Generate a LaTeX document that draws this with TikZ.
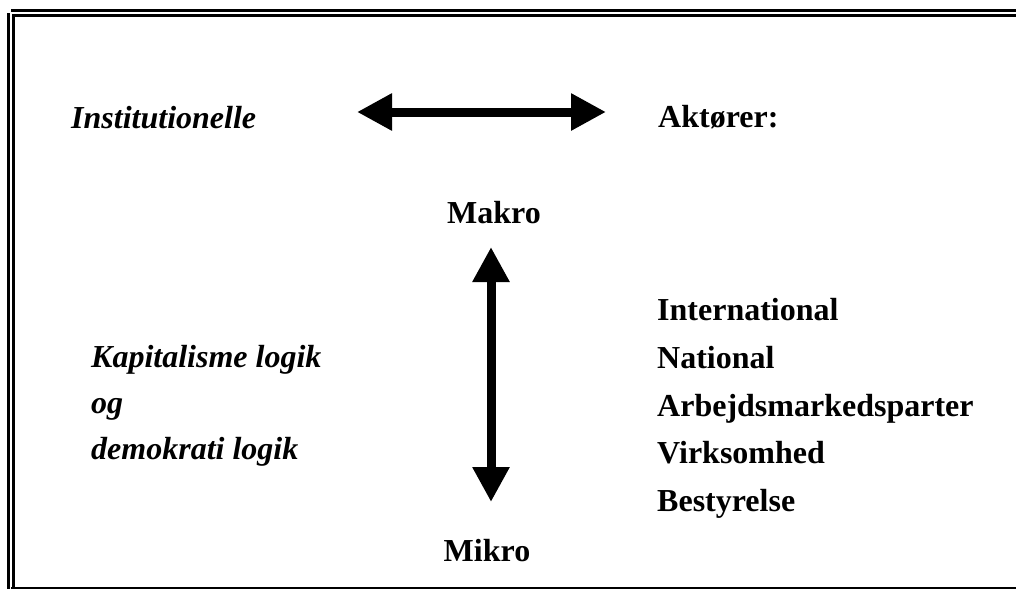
\documentclass[tikz,border=0pt]{standalone}
\usepackage{fontspec}
\setmainfont{Liberation Serif}
\usetikzlibrary{arrows.meta}
\begin{document}
\begin{tikzpicture}[x=1pt,y=-1pt,
  lbl/.style={inner sep=0pt,anchor=base west,font=\fontsize{32}{38}\selectfont\bfseries},
  ilbl/.style={lbl,font=\fontsize{32}{38}\selectfont\bfseries\itshape},
  clbl/.style={lbl,anchor=base},
  frame/.style={line width=2.4pt,line cap=butt},
  bigarrow/.style={line width=9pt,{Triangle[length=35pt,width=35pt]}-{Triangle[length=35pt,width=35pt]}}]
\useasboundingbox (0,0) rectangle (1016,589);
% frame
\draw[frame] (11,10.5) -- (1016,10.5);
\draw[frame] (12,15.3) -- (1016,15.3);
\draw[frame] (8.3,13) -- (8.3,589);
\draw[frame] (13.3,14) -- (13.3,589);
\draw[line width=2pt] (11,588.2) -- (1016,588.2);
% texts
\node[ilbl] (inst) at (71,128) {Institutionelle};
\node[lbl] (akt) at (658,127) {Aktører:};
\node[clbl] (makro) at (494,223) {Makro};
\node[clbl] (mikro) at (487,561) {Mikro};
\node[ilbl] (kap) at (91,367) {Kapitalisme logik};
\node[ilbl] (og) at (91,413) {og};
\node[ilbl] (dem) at (91,459) {demokrati logik};
\node[lbl] (int) at (657,320) {International};
\node[lbl] (nat) at (657,368) {National};
\node[lbl] (arb) at (657,416) {Arbejdsmarkedsparter};
\node[lbl] (vir) at (657,463) {Virksomhed};
\node[lbl] (bes) at (657,511) {Bestyrelse};
% arrows
\coordinate (hl) at (357,112);
\coordinate (hr) at (606,112);
\coordinate (vt) at (491,247);
\coordinate (vb) at (491,502);
\draw[bigarrow] (hl) -- (hr);
\draw[bigarrow] (vt) -- (vb);
\end{tikzpicture}
\end{document}
